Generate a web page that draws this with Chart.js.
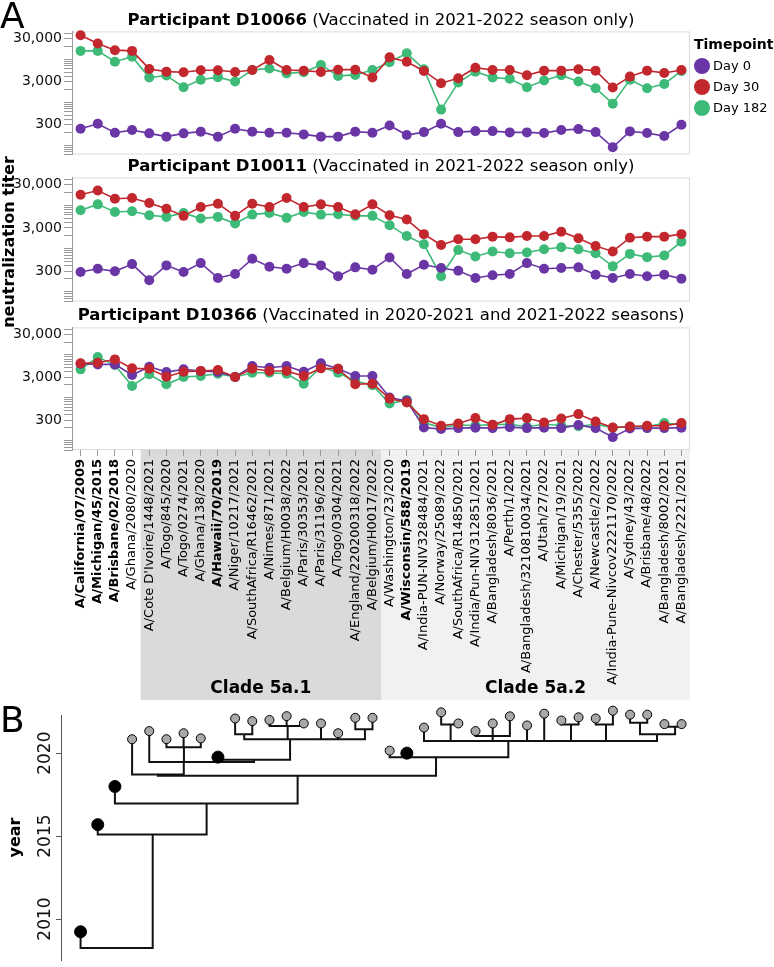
<!DOCTYPE html>
<html>
<head>
<meta charset="utf-8">
<title>Neutralization titers by strain</title>
<script src="https://cdn.jsdelivr.net/npm/chart.js@4.4.1/dist/chart.umd.min.js"></script>
<style>
    body { margin: 0; background: #fff; font-family: 'DejaVu Sans', Verdana, sans-serif; color: #000; }
    #figure { position: relative; width: 774px; height: 967px; overflow: hidden; }
    .box { position: absolute; left: 0; }
    .letter { position: absolute; left: 0; font-size: 36px; line-height: 36px; }
    .title { position: absolute; left: 72px; width: 618px; text-align: center; font-size: 16.5px; line-height: 18px; white-space: nowrap; }
    #yTitle { position: absolute; left: -141px; top: 232px; width: 300px; height: 20px; line-height: 20px; text-align: center; font-size: 16px; font-weight: bold; transform: rotate(-90deg); }
    #legend { position: absolute; left: 694px; top: 36px; font-size: 13px; }
    #legend .head { font-size: 14px; font-weight: bold; line-height: 16px; }
    #legend .item { position: absolute; left: 0; height: 16px; line-height: 16px; white-space: nowrap; }
    #legend .dot { position: absolute; left: 0; top: 0; width: 16px; height: 16px; border-radius: 50%; }
    #legend .name { position: absolute; left: 19px; top: 0; }
</style>
</head>
<body>
<div id="figure">
    <div class="box" style="top:21px"><canvas id="chart1" width="774" height="144"></canvas></div>
    <div class="box" style="top:167px"><canvas id="chart2" width="774" height="145"></canvas></div>
    <div class="box" style="top:317px"><canvas id="chart3" width="774" height="383"></canvas></div>
    <div class="box" style="top:705px"><canvas id="treeChart" width="774" height="262"></canvas></div>
    <div class="title" id="title1" style="top:11px"></div>
    <div class="title" id="title2" style="top:157px"></div>
    <div class="title" id="title3" style="top:306px"></div>
    <div id="yTitle">neutralization titer</div>
    <div id="legend"></div>
    <div class="letter" style="top:-2px">A</div>
    <div class="letter" style="top:702px">B</div>
</div>

<script>
// Strains (x axis of panel A, tree tips of panel B)
const strains = [
    'A/California/07/2009', 'A/Michigan/45/2015', 'A/Brisbane/02/2018', 'A/Ghana/2080/2020',
    "A/Cote D'Ivoire/1448/2021", 'A/Togo/845/2020', 'A/Togo/0274/2021', 'A/Ghana/138/2020',
    'A/Hawaii/70/2019', 'A/Niger/10217/2021', 'A/SouthAfrica/R16462/2021', 'A/Nimes/871/2021',
    'A/Belgium/H0038/2022', 'A/Paris/30353/2021', 'A/Paris/31196/2021', 'A/Togo/0304/2021',
    'A/England/220200318/2022', 'A/Belgium/H0017/2022', 'A/Washington/23/2020', 'A/Wisconsin/588/2019',
    'A/India-PUN-NIV328484/2021', 'A/Norway/25089/2022', 'A/SouthAfrica/R14850/2021', 'A/India/Pun-NIV312851/2021',
    'A/Bangladesh/8036/2021', 'A/Perth/1/2022', 'A/Bangladesh/3210810034/2021', 'A/Utah/27/2022',
    'A/Michigan/19/2021', 'A/Chester/5355/2022', 'A/Newcastle/2/2022', 'A/India-Pune-Nivcov2221170/2022',
    'A/Sydney/43/2022', 'A/Brisbane/48/2022', 'A/Bangladesh/8002/2021', 'A/Bangladesh/2221/2021'
];
const vaccineStrains = ['A/California/07/2009', 'A/Michigan/45/2015', 'A/Brisbane/02/2018', 'A/Hawaii/70/2019', 'A/Wisconsin/588/2019'];

const timepoints = ['Day 0', 'Day 30', 'Day 182'];
const timepointColors = ['#6a36a6', '#c1272d', '#3dba78'];
const drawOrder = [1, 0, 2];

const participants = ['D10066', 'D10011', 'D10366'];
const participantNotes = [
    '(Vaccinated in 2021-2022 season only)',
    '(Vaccinated in 2021-2022 season only)',
    '(Vaccinated in 2020-2021 and 2021-2022 seasons)'
];

// Participant D10066
const d10066Day0 = [240, 313, 194, 223, 187, 157, 187, 205, 157, 240, 205, 194, 194, 177, 157, 157, 205, 194, 286, 171, 200, 313, 200, 211, 211, 197, 197, 190, 223, 235, 200, 89, 208, 190, 162, 297];
const d10066Day30 = [35700, 23000, 16100, 15500, 5900, 5100, 4950, 5500, 5500, 5000, 5580, 9500, 5580, 5380, 5000, 5670, 5670, 3710, 10950, 8670, 5290, 2750, 3590, 6300, 5580, 5580, 4200, 5380, 5380, 5790, 5380, 2180, 3910, 5380, 4760, 5580];
const d10066Day182 = [15500, 15500, 8670, 11300, 3710, 4130, 2220, 3290, 3800, 3000, 5580, 6060, 4650, 4950, 7300, 4060, 4280, 5580, 8400, 13600, 5790, 668, 2850, 5100, 3710, 3470, 2220, 3170, 4200, 3000, 2100, 919, 3290, 2100, 2640, 5290];

// Participant D10011
const d10011Day0 = [289, 344, 300, 440, 187, 411, 289, 464, 211, 260, 582, 383, 344, 464, 411, 231, 370, 327, 626, 260, 425, 357, 310, 211, 243, 260, 464, 344, 357, 370, 251, 211, 260, 231, 251, 203];
const d10011Day30 = [17500, 21900, 14200, 14700, 11300, 8360, 5700, 9150, 10900, 5700, 10900, 9150, 14700, 9150, 10500, 9150, 6200, 10500, 5890, 4690, 2160, 1210, 1640, 1640, 1890, 1820, 1950, 1950, 2460, 1730, 1150, 860, 1790, 1890, 1890, 2160];
const d10011Day182 = [7650, 10500, 7020, 7260, 5890, 5400, 6670, 4940, 5400, 3800, 6100, 6670, 5130, 7020, 6100, 6200, 5700, 5700, 3480, 1950, 1260, 231, 933, 660, 860, 785, 815, 968, 1080, 968, 785, 390, 757, 636, 696, 1450];

// Participant D10366
const d10366Day0 = [6240, 6010, 6010, 3400, 5300, 3980, 4600, 4200, 3980, 3050, 5500, 5020, 5500, 4040, 6350, 4750, 3210, 3210, 1010, 844, 202, 185, 195, 200, 195, 205, 195, 200, 195, 230, 195, 120, 190, 195, 195, 200];
const d10366Day30 = [6350, 6560, 7860, 4860, 4750, 3100, 4040, 4200, 4430, 3050, 4750, 4200, 4200, 3210, 4860, 4750, 2060, 2130, 953, 770, 316, 221, 250, 334, 233, 316, 334, 264, 327, 414, 278, 202, 213, 221, 221, 255];
const d10366Day182 = [4600, 8890, 5800, 1880, 3520, 2060, 3050, 3210, 3640, 3050, 3840, 3840, 3640, 2130, 5210, 3840, 2460, 1960, 730, 890, 264, 200, 230, 225, 235, 240, 210, 240, 225, 215, 240, 200, 210, 210, 255, 235];

// Log axis
const titerMin = 60;
const titerMax = 44000;
const titerTicks = [60, 70, 80, 90, 100, 200, 300, 400, 500, 600, 700, 800, 900, 1000, 2000, 3000, 4000, 5000, 6000, 7000, 8000, 9000, 10000, 20000, 30000, 40000];
const labeledTiters = [300, 3000, 30000];

// Clades under the strain labels
const cladeNames = ['Clade 5a.1', 'Clade 5a.2'];
const cladeFirst = [4, 18];
const cladeLast = [17, 35];
const cladeColors = ['#dadada', '#f1f1f1'];

// Tree: tips sit on the strain positions, inner nodes listed separately
const tipYears = [2009.23, 2015.69, 2017.99, 2020.84, 2021.33, 2020.84, 2021.2, 2020.89, 2019.76, 2022.09, 2021.93, 2022.0,
    2022.23, 2021.79, 2021.79, 2021.2, 2022.13, 2022.13, 2020.15, 2020.0, 2021.54, 2022.46, 2021.79, 2021.33,
    2021.79, 2022.22, 2021.67, 2022.38, 2021.97, 2022.16, 2022.09, 2022.56, 2022.32, 2022.32, 2021.75, 2021.75];
const tipParents = [0, 1, 2, 4, 5, 6, 6, 6, 7, 9, 9, 10, 10, 10, 8, 8, 11, 11, 12, 12, 13, 14, 14, 15, 15, 15, 13, 13, 16, 16, 17, 17, 19, 19, 20, 20];
const nodeX = [2.1, 4.2, 7.34, 12.64, 4.5, 6.01, 6.02, 10.1, 12.2, 9.53, 12.06, 16.56, 20.7, 24.91, 21.55, 24.0, 28.56, 30.6, 33.57, 32.58, 34.62];
const nodeYears = [2008.25, 2015.1, 2016.96, 2018.64, 2018.72, 2019.47, 2020.35, 2019.6, 2020.84, 2021.14, 2021.63, 2021.44, 2019.76, 2020.74, 2021.73, 2021.04, 2021.73, 2021.73, 2021.14, 2021.83, 2021.59];
const nodeParents = [-1, 0, 1, 2, 3, 4, 5, 5, 7, 8, 8, 8, 3, 12, 13, 13, 13, 13, 13, 18, 18];
const yearTicks = [2010, 2015, 2020];

const FONT = "'DejaVu Sans', Verdana, sans-serif";
Chart.defaults.font.family = FONT;
Chart.defaults.color = '#111';

// Light grey frame round the plot area
const framePlugin = {
    id: 'frame',
    beforeDraw(chart) {
        const a = chart.chartArea;
        const ctx = chart.ctx;
        ctx.save();
        ctx.strokeStyle = '#dcdcdc';
        ctx.lineWidth = 1;
        ctx.strokeRect(a.left + 0.5, a.top + 0.5, a.right - a.left - 1, a.bottom - a.top - 1);
        ctx.restore();
    }
};

// Shaded clade boxes behind the strain labels
const cladePlugin = {
    id: 'cladeBands',
    beforeDraw(chart) {
        const x = chart.scales.x;
        const a = chart.chartArea;
        const ctx = chart.ctx;
        const half = (x.getPixelForValue(1) - x.getPixelForValue(0)) / 2;
        ctx.save();
        cladeNames.forEach((name, k) => {
            const x0 = x.getPixelForValue(cladeFirst[k]) - half;
            const x1 = x.getPixelForValue(cladeLast[k]) + half;
            ctx.fillStyle = cladeColors[k];
            ctx.fillRect(x0, a.bottom, x1 - x0, chart.height - a.bottom);
            ctx.fillStyle = '#000';
            ctx.font = 'bold 17px ' + FONT;
            ctx.textAlign = 'center';
            ctx.textBaseline = 'middle';
            ctx.fillText(name, (x0 + x1) / 2, chart.height - 11);
        });
        ctx.restore();
    }
};

function makeTiterChart(canvasId, series, showStrains) {
    const ctx = document.getElementById(canvasId).getContext('2d');
    const plugins = showStrains ? [cladePlugin, framePlugin] : [framePlugin];
    const xAxis = {
        type: 'category',
        offset: true,
        display: showStrains,
        grid: { display: true, drawOnChartArea: false, drawTicks: true, tickLength: 6, color: '#9a9a9a' },
        border: { display: false },
        ticks: {
            autoSkip: false,
            minRotation: 90,
            maxRotation: 90,
            padding: 3,
            color: '#000',
            font: (c) => ({
                family: FONT,
                size: 13,
                weight: vaccineStrains.includes(strains[c.index]) ? 'bold' : 'normal'
            })
        }
    };
    // fixed room for the strain labels and clade boxes
    if (showStrains) xAxis.afterFit = (scale) => { scale.height = 250; };

    return new Chart(ctx, {
        type: 'line',
        data: {
            labels: strains,
            datasets: timepoints.map((tp, i) => ({
                label: tp,
                data: series[i],
                borderColor: timepointColors[i],
                backgroundColor: timepointColors[i],
                borderWidth: 1.6,
                pointRadius: 5,
                pointHoverRadius: 5,
                pointBorderWidth: 0,
                tension: 0,
                clip: false,
                order: drawOrder[i]
            }))
        },
        options: {
            responsive: false,
            animation: false,
            events: [],
            layout: { padding: { top: 10, bottom: showStrains ? 0 : 10, left: 0, right: 84 } },
            plugins: { legend: { display: false }, tooltip: { enabled: false } },
            scales: {
                x: xAxis,
                y: {
                    type: 'logarithmic',
                    min: titerMin,
                    max: titerMax,
                    afterBuildTicks: (scale) => { scale.ticks = titerTicks.map(v => ({ value: v })); },
                    afterFit: (scale) => { scale.width = 72; },
                    grid: { display: true, drawOnChartArea: false, drawTicks: true, tickLength: 8, color: '#9a9a9a' },
                    border: { display: true, color: '#9a9a9a' },
                    ticks: {
                        autoSkip: false,
                        padding: 2,
                        color: '#111',
                        font: { size: 14 },
                        callback: (v) => labeledTiters.includes(v) ? v.toLocaleString('en-US') : ''
                    }
                }
            }
        },
        plugins: plugins
    });
}

// Rotated year labels on the tree axis
const yearLabelPlugin = {
    id: 'yearLabels',
    afterDraw(chart) {
        const y = chart.scales.y;
        const ctx = chart.ctx;
        ctx.save();
        ctx.font = '17px ' + FONT;
        ctx.fillStyle = '#111';
        ctx.textAlign = 'center';
        ctx.textBaseline = 'middle';
        y.ticks.forEach(t => {
            ctx.save();
            ctx.translate(y.right - 15, y.getPixelForValue(t.value));
            ctx.rotate(-Math.PI / 2);
            ctx.fillText(String(t.value), 0, 0);
            ctx.restore();
        });
        ctx.restore();
    }
};

// Branch segments: a vertical from each child to its parent's height,
// and a horizontal bar across the children of each inner node
function treeSegments() {
    const pts = [];
    const addSeg = (x0, y0, x1, y1) => {
        pts.push({ x: x0, y: y0 }, { x: x1, y: y1 }, { x: x1, y: null });
    };
    tipYears.forEach((yr, i) => addSeg(i, nodeYears[tipParents[i]], i, yr));
    nodeParents.forEach((p, n) => {
        if (p >= 0) addSeg(nodeX[n], nodeYears[p], nodeX[n], nodeYears[n]);
    });
    nodeX.forEach((_, n) => {
        const xs = [];
        tipParents.forEach((p, i) => { if (p === n) xs.push(i); });
        nodeParents.forEach((p, m) => { if (p === n) xs.push(nodeX[m]); });
        addSeg(Math.min(...xs), nodeYears[n], Math.max(...xs), nodeYears[n]);
    });
    return pts;
}

function makeTreeChart() {
    const ctx = document.getElementById('treeChart').getContext('2d');
    const isVaccine = strains.map(s => vaccineStrains.includes(s));
    return new Chart(ctx, {
        type: 'scatter',
        data: {
            datasets: [
                {
                    label: 'tips',
                    data: strains.map((s, i) => ({ x: i, y: tipYears[i] })),
                    pointRadius: isVaccine.map(v => v ? 6 : 4.5),
                    pointBackgroundColor: isVaccine.map(v => v ? '#000' : '#a8a8a8'),
                    pointBorderColor: '#000',
                    pointBorderWidth: 1,
                    clip: false
                },
                {
                    label: 'branches',
                    data: treeSegments(),
                    showLine: true,
                    spanGaps: false,
                    borderColor: '#111',
                    borderWidth: 2,
                    borderCapStyle: 'square',
                    pointRadius: 0,
                    clip: false
                }
            ]
        },
        options: {
            responsive: false,
            animation: false,
            events: [],
            layout: { padding: { top: 10, bottom: 2, left: 0, right: 84 } },
            plugins: { legend: { display: false }, tooltip: { enabled: false } },
            scales: {
                x: { type: 'linear', min: -1.14, max: 35.49, display: false },
                y: {
                    type: 'linear',
                    min: 2007.53,
                    max: 2022.3,
                    afterBuildTicks: (scale) => { scale.ticks = yearTicks.map(v => ({ value: v })); },
                    afterFit: (scale) => { scale.width = 61; },
                    grid: { display: true, drawOnChartArea: false, drawTicks: true, tickLength: 5, color: '#555' },
                    border: { display: true, color: '#555' },
                    ticks: { display: false },
                    title: { display: true, text: 'year', color: '#000', padding: 6, font: { size: 16, weight: 'bold' } }
                }
            }
        },
        plugins: [yearLabelPlugin]
    });
}

function buildTitles() {
    participants.forEach((id, i) => {
        const el = document.getElementById('title' + (i + 1));
        el.innerHTML = '<b>Participant ' + id + '</b> ' + participantNotes[i];
    });
}

function buildLegend() {
    const legend = document.getElementById('legend');
    let html = '<div class="head">Timepoint</div>';
    timepoints.forEach((tp, i) => {
        html += '<div class="item" style="top:' + (22 + i * 20.8) + 'px">' +
            '<span class="dot" style="background:' + timepointColors[i] + '"></span>' +
            '<span class="name">' + tp + '</span></div>';
    });
    legend.innerHTML = html;
}

buildTitles();
buildLegend();
makeTiterChart('chart1', [d10066Day0, d10066Day30, d10066Day182], false);
makeTiterChart('chart2', [d10011Day0, d10011Day30, d10011Day182], false);
makeTiterChart('chart3', [d10366Day0, d10366Day30, d10366Day182], true);
makeTreeChart();
</script>
</body>
</html>
